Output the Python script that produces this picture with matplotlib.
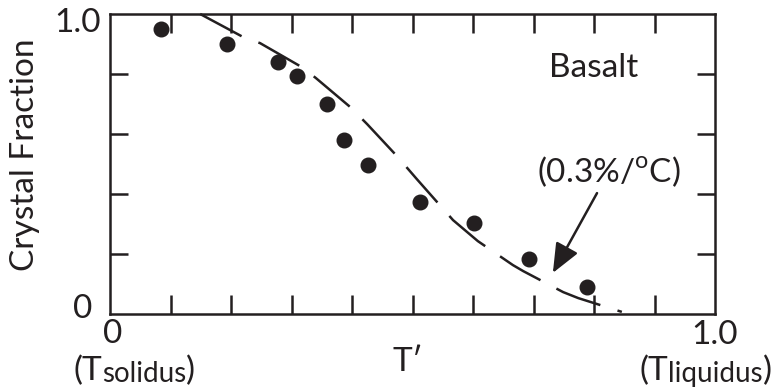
import matplotlib
matplotlib.use("Agg")
import matplotlib.pyplot as plt

# normalised temperature T' and measured crystal fraction (basalt)
t_obs = [0.085, 0.193, 0.277, 0.309, 0.359, 0.386, 0.427, 0.512, 0.601, 0.693, 0.788]
frac_obs = [0.95, 0.90, 0.84, 0.795, 0.70, 0.58, 0.497, 0.374, 0.302, 0.183, 0.091]

# model curve, 0.3%/oC
t_model = [0.149, 0.223, 0.248, 0.317, 0.340, 0.397, 0.425, 0.474, 0.507,
           0.567, 0.608, 0.666, 0.683, 0.749, 0.774, 0.846]
frac_model = [1.0, 0.920, 0.903, 0.823, 0.787, 0.690, 0.633, 0.527, 0.450,
              0.313, 0.243, 0.163, 0.143, 0.073, 0.053, 0.007]

x_ticks = [0.1, 0.2, 0.3, 0.4, 0.5, 0.6, 0.7, 0.8, 0.9]
y_ticks = [0.2, 0.4, 0.6, 0.8]

ink = "#231f20"
plt.rcParams["font.family"] = ["Lato", "DejaVu Sans"]
plt.rcParams["mathtext.fontset"] = "custom"
plt.rcParams["mathtext.rm"] = "Lato"
fs = 24

fig = plt.figure(figsize=(7.77, 3.89), dpi=100)
ax = fig.add_axes([110 / 777, 1 - 314 / 389, 605 / 777, 300 / 389])
ax.set_xlim(0, 1)
ax.set_ylim(0, 1)

ax.plot(t_model, frac_model, color=ink, lw=1.8, dashes=(18.8, 7.2),
        solid_capstyle="butt", dash_capstyle="butt", clip_on=False)
ax.plot(t_obs, frac_obs, "o", color=ink, ms=10.5, clip_on=False)

for s in ax.spines.values():
    s.set_linewidth(1.8)
    s.set_color(ink)
ax.set_xticks(x_ticks)
ax.set_yticks(y_ticks)
ax.set_xticklabels([])
ax.set_yticklabels([])
ax.tick_params(axis="x", direction="in", length=14, width=1.8, color=ink,
               top=True, bottom=True)
ax.tick_params(axis="y", direction="in", length=13, width=1.8, color=ink,
               left=True, right=True)

# axis end labels
ax.text(-0.016, 0.97, "1.0", ha="right", va="center", fontsize=fs, color=ink, clip_on=False)
ax.text(-0.03, 0.017, "0", ha="right", va="center", fontsize=fs, color=ink, clip_on=False)
ax.text(0.005, -0.067, "0", ha="center", va="center", fontsize=fs, color=ink, clip_on=False)
ax.text(1.0, -0.07, "1.0", ha="center", va="center", fontsize=fs, color=ink, clip_on=False)
ax.text(0.4926, -0.16, "T\u2032", ha="center", va="center", fontsize=fs, color=ink, clip_on=False)
ax.text(-0.14, 0.53, "Crystal Fraction", rotation=90, ha="center", va="center",
        fontsize=fs, color=ink, clip_on=False)

# (T_solidus) and (T_liquidus) built from pieces sharing a baseline
sub_fs = 20
t1 = ax.text(-0.061, -0.222, "(T", ha="left", va="baseline", fontsize=fs,
             color=ink, clip_on=False)
t2 = ax.annotate("solidus", xy=(1, 0), xycoords=t1, ha="left", va="bottom",
                 fontsize=sub_fs, color=ink)
ax.annotate(")", xy=(1, 0), xycoords=t2, ha="left", va="bottom", fontsize=fs, color=ink)

r3 = ax.text(1.094, -0.222, ")", ha="right", va="baseline", fontsize=fs,
             color=ink, clip_on=False)
r2 = ax.annotate("liquidus", xy=(0, 0), xycoords=r3, ha="right", va="bottom",
                 fontsize=sub_fs, color=ink)
ax.annotate("(T", xy=(0, 0), xycoords=r2, ha="right", va="bottom", fontsize=fs, color=ink)

ax.text(0.80, 0.82, "Basalt", ha="center", va="center", fontsize=fs, color=ink)
ax.text(0.825, 0.473, "(0.3%/$^{\\mathregular{o}}$C)", ha="center", va="center",
        fontsize=fs, color=ink)
ax.annotate("", xy=(0.732, 0.137), xytext=(0.805, 0.403),
            arrowprops=dict(arrowstyle="-|>,head_length=0.9,head_width=0.38",
                            mutation_scale=20, lw=1.8, color=ink,
                            shrinkA=0, shrinkB=0))

fig.savefig("out.png", dpi=100, facecolor="white")
